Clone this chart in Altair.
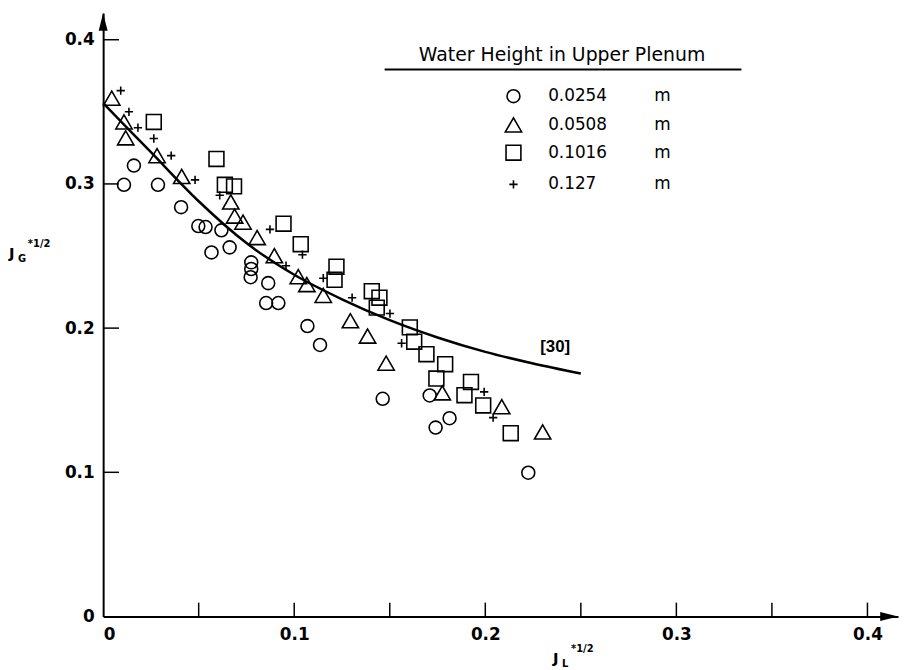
import altair as alt
import pandas as pd

# ---------------- data ----------------
series = ["0.0254", "0.0508", "0.1016", "0.127"]

circ_x = [0.0109, 0.0287, 0.0161, 0.0408, 0.0498, 0.0536, 0.0619, 0.0567, 0.0662, 0.0775,
          0.0775, 0.0772, 0.0864, 0.0853, 0.0917, 0.1069, 0.1135, 0.1463, 0.1709, 0.1813,
          0.1740, 0.2225]
circ_y = [0.2994, 0.2994, 0.3127, 0.2839, 0.2708, 0.2701, 0.2678, 0.2525, 0.2560, 0.2456,
          0.2410, 0.2353, 0.2312, 0.2174, 0.2174, 0.2014, 0.1883, 0.1510, 0.1533, 0.1375,
          0.1310, 0.0997]

tri_x = [0.0045, 0.0109, 0.0118, 0.0282, 0.0411, 0.0668, 0.0688, 0.0732, 0.0806, 0.0896,
         0.1021, 0.1066, 0.1152, 0.1294, 0.1384, 0.1481, 0.1775, 0.2086, 0.2300]
tri_y = [0.3595, 0.3430, 0.3320, 0.3196, 0.3052, 0.2875, 0.2777, 0.2735, 0.2628, 0.2502,
         0.2357, 0.2302, 0.2227, 0.2051, 0.1945, 0.1757, 0.1551, 0.1455, 0.1280]

sq_x = [0.0265, 0.0593, 0.0637, 0.0685, 0.0944, 0.1034, 0.1221, 0.1211, 0.1406, 0.1446,
        0.1432, 0.1605, 0.1628, 0.1692, 0.1790, 0.1744, 0.1925, 0.1891, 0.1989, 0.2133]
sq_y = [0.3430, 0.3173, 0.2994, 0.2983, 0.2724, 0.2582, 0.2426, 0.2335, 0.2256, 0.2211,
        0.2142, 0.2005, 0.1906, 0.1819, 0.1750, 0.1650, 0.1627, 0.1535, 0.1464, 0.1271]

plus_x = [0.0092, 0.0135, 0.0182, 0.0265, 0.0356, 0.0481, 0.0610, 0.0873, 0.1043, 0.0957,
          0.1152, 0.1303, 0.1501, 0.1562, 0.1994, 0.2041]
plus_y = [0.3647, 0.3500, 0.3390, 0.3315, 0.3196, 0.3028, 0.2921, 0.2685, 0.2509, 0.2433,
          0.2346, 0.2211, 0.2101, 0.1895, 0.1558, 0.1379]

curve_x = [0.0, 0.025, 0.05, 0.075, 0.1, 0.125, 0.15, 0.175, 0.2, 0.225, 0.25]
curve_y = [0.3560, 0.3220, 0.2880, 0.2590, 0.2370, 0.2200, 0.2055, 0.1935, 0.1835, 0.1755, 0.1685]

curve_label = "[30]"
curve_label_x = [0.2366]
curve_label_y = [0.1870]

x_label_values = [0.0, 0.1, 0.2, 0.3, 0.4]
y_label_values = [0.0, 0.1, 0.2, 0.3, 0.4]
x_tick_values = [0.05, 0.10, 0.15, 0.20, 0.25, 0.30, 0.35, 0.40]
y_tick_values = [0.1, 0.2, 0.3, 0.4]

legend_title = "Water Height in Upper Plenum"
legend_unit = "m"

# ---------------- styling ----------------
FONT = "DejaVu Sans"
PLUS = "M-1,0L1,0M0,-1L0,1"
shapes = ["circle", "triangle-up", "square", PLUS]
sizes = [170, 270, 225, 70]
W, H = 802, 609
legend_rows_y = [84, 113, 141, 173]

xs = alt.Scale(domain=[0, 0.416], nice=False, zero=False)
ys = alt.Scale(domain=[0, 0.4186], nice=False, zero=False)

LABEL_EXPR = "datum.value == 0 ? '0' : format(datum.value, '.1f')"
x_axis = alt.Axis(values=x_label_values, title=None, grid=False, ticks=False, tickSize=0,
                  domainColor="black", domainWidth=2, labelFont=FONT, labelFontSize=17,
                  labelFontWeight="bold", labelColor="black", labelPadding=10,
                  labelExpr=LABEL_EXPR)
y_axis = alt.Axis(values=y_label_values, title=None, grid=False, ticks=False, tickSize=0,
                  domainColor="black", domainWidth=2, labelFont=FONT, labelFontSize=17,
                  labelFontWeight="bold", labelColor="black", labelPadding=9,
                  labelExpr=LABEL_EXPR)

def X(field):
    return alt.X(field, scale=xs, axis=x_axis)

def Y(field):
    return alt.Y(field, scale=ys, axis=y_axis)

layers = []

curve = alt.Chart(pd.DataFrame({"x": curve_x, "y": curve_y})).mark_line(
    color="black", strokeWidth=2.5, interpolate="monotone").encode(x=X("x:Q"), y=Y("y:Q"))
layers.append(curve)

for xs_, ys_, i in [(circ_x, circ_y, 0), (tri_x, tri_y, 1), (sq_x, sq_y, 2), (plus_x, plus_y, 3)]:
    layers.append(alt.Chart(pd.DataFrame({"x": xs_, "y": ys_})).mark_point(
        shape=shapes[i], size=sizes[i], filled=False, color="black", strokeWidth=1.6, opacity=1
    ).encode(x=X("x:Q"), y=Y("y:Q")))

layers.append(alt.Chart(pd.DataFrame({"x": curve_label_x, "y": curve_label_y, "t": [curve_label]})).mark_text(
    font="Liberation Sans Narrow, Liberation Sans", fontWeight="bold", fontSize=17,
    color="black", align="center", baseline="middle").encode(x=X("x:Q"), y=Y("y:Q"), text="t:N"))

layers.append(alt.Chart(pd.DataFrame({"x": x_tick_values})).mark_rule(color="black", strokeWidth=1.5).encode(
    x=X("x:Q"), y=alt.value(H), y2=alt.value(H - 14)))
layers.append(alt.Chart(pd.DataFrame({"y": y_tick_values})).mark_rule(color="black", strokeWidth=1.5).encode(
    y=Y("y:Q"), x=alt.value(0), x2=alt.value(16)))

one = pd.DataFrame({"a": [0]})
layers.append(alt.Chart(one).mark_point(shape="M0,-1L-0.5,1L0.5,1Z", filled=True, color="black",
                                        size=324, opacity=1).encode(x=alt.value(0), y=alt.value(9)))
layers.append(alt.Chart(one).mark_point(shape="M1,0L-1,-0.5L-1,0.5Z", filled=True, color="black",
                                        size=324, opacity=1).encode(x=alt.value(W - 9), y=alt.value(H)))

# legend
layers.append(alt.Chart(pd.DataFrame({"t": [legend_title]})).mark_text(
    font=FONT, fontSize=19, color="black", align="center", baseline="middle").encode(
    text="t:N", x=alt.value(463), y=alt.value(43)))
layers.append(alt.Chart(one).mark_rule(color="black", strokeWidth=2).encode(
    x=alt.value(284), x2=alt.value(644), y=alt.value(57)))
for i, lab in enumerate(series):
    layers.append(alt.Chart(one).mark_point(shape=shapes[i], size=sizes[i], filled=False,
                                            color="black", strokeWidth=1.6, opacity=1).encode(
        x=alt.value(414), y=alt.value(legend_rows_y[i])))
    layers.append(alt.Chart(pd.DataFrame({"t": [lab]})).mark_text(
        font=FONT, fontSize=17, color="black", align="left", baseline="middle").encode(
        text="t:N", x=alt.value(449), y=alt.value(legend_rows_y[i])))
    layers.append(alt.Chart(pd.DataFrame({"t": [legend_unit]})).mark_text(
        font=FONT, fontSize=17, color="black", align="left", baseline="middle").encode(
        text="t:N", x=alt.value(556), y=alt.value(legend_rows_y[i])))

# axis titles with sub/superscripts
def txt(t, x, y, size, weight="bold", align="left"):
    return alt.Chart(pd.DataFrame({"t": [t]})).mark_text(
        font=FONT, fontSize=size, fontWeight=weight, color="black", align=align,
        baseline="middle").encode(text="t:N", x=alt.value(x), y=alt.value(y))

layers += [
    txt("J", 454, 651, 15), txt("L", 463, 657, 10), txt("*1/2", 472, 642, 10),
    txt("J", -95, 242, 15), txt("G", -86, 248, 10), txt("*1/2", -76, 233, 10),
]

chart = alt.layer(*layers).properties(
    width=W, height=H,
    autosize=alt.AutoSizeParams(type="none"),
    padding={"left": 96, "top": 2, "right": 2, "bottom": 49},
    background="white",
).configure_view(stroke=None)

chart.save("out.html", embed_options={"renderer": "svg", "actions": False})
